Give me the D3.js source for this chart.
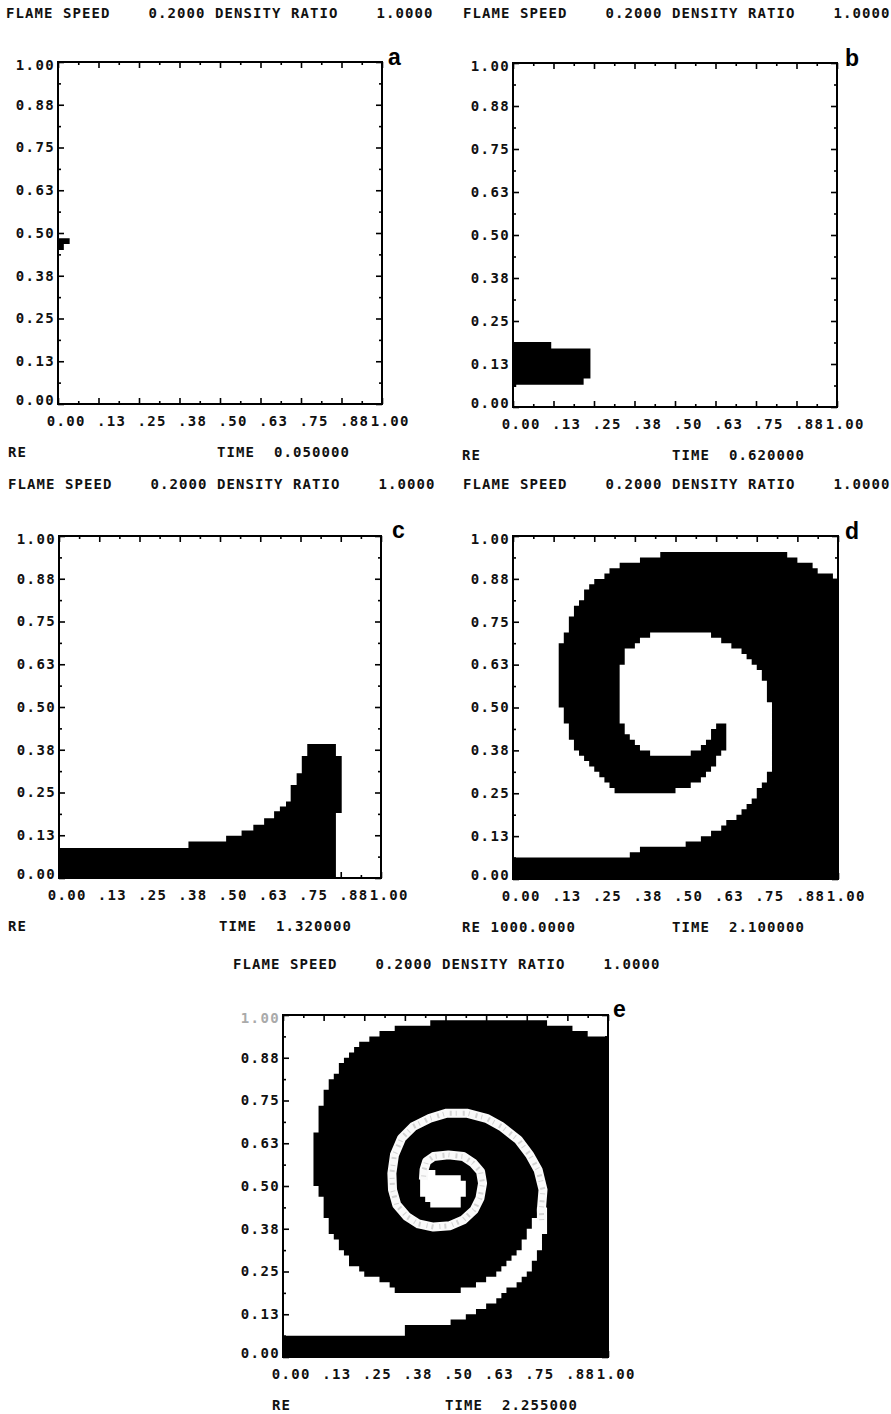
<!DOCTYPE html>
<html>
<head>
<meta charset="utf-8">
<script src="https://cdn.jsdelivr.net/npm/d3@7"></script>
<style>
  body { margin: 0; background: #fff; }
  svg { display: block; }
</style>
</head>
<body>
<div id="chart"></div>
<script>

// ---- data ----
var panelIds = ["a", "b", "c", "d", "e"];
var timeValues = ["0.050000", "0.620000", "1.320000", "2.100000", "2.255000"];
var reValues = ["", "", "", "1000.0000", ""];
var flameSpeed = "0.2000";
var densityRatio = "1.0000";

var tickValues = [0, 0.125, 0.25, 0.375, 0.5, 0.625, 0.75, 0.875, 1];
var minorTickValues = [0.0625, 0.1875, 0.3125, 0.4375, 0.5625, 0.6875, 0.8125, 0.9375];
var yTickLabels = ["0.00", "0.13", "0.25", "0.38", "0.50", "0.63", "0.75", "0.88", "1.00"];
var xTickLabels = ["0.00", ".13", ".25", ".38", ".50", ".63", ".75", ".88", "1.00"];

// burnt cells [x0, x1, y0, y1]
var burntA = [[0, 0.036, 0.468, 0.485], [0, 0.018, 0.45, 0.468]];
var burntB = [[0, 0.239, 0.0825, 0.170], [0, 0.218, 0.065, 0.0825],
              [0, 0.118, 0.170, 0.189], [0, 0.010, 0.058, 0.065]];
var burntC = [[0, 0.402, 0, 0.0875], [0.402, 0.519, 0, 0.107], [0.519, 0.567, 0, 0.1235],
              [0.567, 0.6035, 0, 0.139], [0.6035, 0.637, 0, 0.156], [0.637, 0.668, 0, 0.175],
              [0.668, 0.686, 0, 0.195], [0.686, 0.705, 0, 0.209], [0.705, 0.7195, 0, 0.224],
              [0.7195, 0.738, 0, 0.272], [0.738, 0.754, 0, 0.306], [0.754, 0.771, 0, 0.357],
              [0.771, 0.860, 0, 0.392], [0.860, 0.878, 0.19, 0.357]];

// unburnt (white) region of d, [x, y]
var unburntD = [[0, 1], [1, 1], [1, 0.88], [0.98, 0.886], [0.944, 0.895], [0.929, 0.91], [0.888, 0.924],
  [0.862, 0.939], [0.837, 0.949], [0.811, 0.958], [0.51, 0.958], [0.5, 0.949], [0.439, 0.944],
  [0.408, 0.934], [0.367, 0.924], [0.316, 0.91], [0.286, 0.89], [0.265, 0.876], [0.245, 0.861],
  [0.23, 0.842], [0.204, 0.808], [0.189, 0.779], [0.173, 0.745], [0.163, 0.721], [0.148, 0.687],
  [0.148, 0.502], [0.163, 0.454], [0.179, 0.405], [0.204, 0.367], [0.235, 0.328], [0.265, 0.308],
  [0.286, 0.289], [0.316, 0.26], [0.321, 0.245], [0.495, 0.245], [0.5, 0.258], [0.541, 0.27],
  [0.571, 0.284], [0.597, 0.304], [0.612, 0.318], [0.628, 0.338], [0.638, 0.367], [0.653, 0.38],
  [0.656, 0.449], [0.630, 0.449], [0.628, 0.444], [0.612, 0.43], [0.597, 0.405], [0.582, 0.386],
  [0.546, 0.367], [0.526, 0.357], [0.48, 0.352], [0.418, 0.367], [0.388, 0.381], [0.367, 0.405],
  [0.347, 0.425], [0.337, 0.454], [0.321, 0.493], [0.321, 0.599], [0.337, 0.619], [0.352, 0.667],
  [0.388, 0.696], [0.418, 0.711], [0.469, 0.726], [0.592, 0.726], [0.622, 0.706], [0.663, 0.687],
  [0.694, 0.667], [0.735, 0.638], [0.755, 0.619], [0.776, 0.58], [0.791, 0.512], [0.791, 0.308],
  [0.776, 0.289], [0.765, 0.27], [0.745, 0.24], [0.724, 0.211], [0.694, 0.182], [0.653, 0.158],
  [0.612, 0.134], [0.571, 0.114], [0.531, 0.1], [0.418, 0.09], [0.367, 0.08], [0.362, 0.068],
  [0, 0.068]];

// unburnt regions of e
var unburntE = [[0, 1], [1, 1], [1, 0.932], [0.964, 0.939], [0.903, 0.956], [0.872, 0.971],
  [0.770, 0.981], [0.463, 0.985], [0.452, 0.974], [0.360, 0.964], [0.299, 0.948], [0.258, 0.927],
  [0.217, 0.898], [0.197, 0.878], [0.176, 0.854], [0.156, 0.820], [0.135, 0.791], [0.115, 0.732],
  [0.099, 0.649], [0.099, 0.508], [0.115, 0.469], [0.130, 0.421], [0.150, 0.362], [0.176, 0.314],
  [0.207, 0.275], [0.258, 0.241], [0.319, 0.216], [0.350, 0.192], [0.545, 0.192], [0.596, 0.211],
  [0.637, 0.231], [0.672, 0.260], [0.703, 0.289], [0.729, 0.323], [0.754, 0.362], [0.770, 0.401],
  [0.780, 0.430], [0.811, 0.430], [0.811, 0.391], [0.800, 0.343], [0.780, 0.294], [0.759, 0.255],
  [0.719, 0.216], [0.667, 0.177], [0.626, 0.143], [0.565, 0.119], [0.504, 0.099], [0.381, 0.090],
  [0.371, 0.068], [0, 0.068]];
var coreE = [[0.422, 0.542], [0.468, 0.542], [0.471, 0.528], [0.545, 0.530], [0.560, 0.508],
  [0.560, 0.474], [0.545, 0.460], [0.539, 0.440], [0.458, 0.438], [0.452, 0.455], [0.427, 0.469],
  [0.422, 0.503]];
var spiralE = [[0.796, 0.40], [0.795, 0.430], [0.800, 0.489], [0.785, 0.547], [0.759, 0.591],
  [0.724, 0.635], [0.672, 0.674], [0.626, 0.698], [0.565, 0.713], [0.504, 0.713], [0.452, 0.698],
  [0.401, 0.674], [0.365, 0.640], [0.343, 0.591], [0.335, 0.537], [0.337, 0.489], [0.350, 0.445],
  [0.381, 0.411], [0.417, 0.389], [0.463, 0.380], [0.514, 0.384], [0.555, 0.401], [0.588, 0.430],
  [0.606, 0.464], [0.614, 0.508], [0.608, 0.542], [0.585, 0.567], [0.555, 0.586], [0.509, 0.591],
  [0.463, 0.586], [0.442, 0.572], [0.434, 0.547], [0.432, 0.518]];

// ---- layout ----
var width = 891;
var height = 1414;
var gridN = 64;   // mesh of the computation, gives the stepped edges
var layout = [
  {L: 58,  T: 62,   R: 382, B: 404,  headX: 6,   headY: 18,  reX: 8,   timeX: 217, letterX: 388, letterY: 65},
  {L: 513, T: 63,   R: 837, B: 407,  headX: 463, headY: 18,  reX: 462, timeX: 672, letterX: 845, letterY: 66},
  {L: 59,  T: 536,  R: 381, B: 878,  headX: 8,   headY: 489, reX: 8,   timeX: 219, letterX: 392, letterY: 538},
  {L: 513, T: 536,  R: 838, B: 879,  headX: 463, headY: 489, reX: 462, timeX: 672, letterX: 845, letterY: 539},
  {L: 283, T: 1015, R: 608, B: 1357, headX: 233, headY: 969, reX: 272, timeX: 445, letterX: 613, letterY: 1017}
];
var pitch = 9.8;      // char step of the plotter font
var headPitch = 9.5;
var fontSize = 14;
var monoFont = "'DejaVu Sans Mono', monospace";

var svg = d3.select("#chart")
            .append("svg")
            .attr("width", width)
            .attr("height", height);

function monoText(sel, x, y, str, step) {
  return sel.append("text")
    .attr("x", x)
    .attr("y", y)
    .attr("font-family", monoFont)
    .attr("font-weight", "bold")
    .attr("font-size", fontSize)
    .attr("letter-spacing", step - fontSize * 0.602)
    .attr("fill", "#111")
    .text(str);
}

// turn white polygons into burnt grid cells (runs along each row)
function cellsOutside(polys) {
  var cells = [];
  for (var r = 0; r < gridN; r++) {
    var yc = (r + 0.5) / gridN;
    var start = -1;
    for (var c = 0; c <= gridN; c++) {
      var burnt = false;
      if (c < gridN) {
        var xc = (c + 0.5) / gridN;
        burnt = !polys.some(function(p) { return d3.polygonContains(p, [xc, yc]); });
      }
      if (burnt && start < 0) start = c;
      if (!burnt && start >= 0) {
        cells.push([start / gridN, c / gridN, r / gridN, (r + 1) / gridN]);
        start = -1;
      }
    }
  }
  return cells;
}

var burntShapes = [
  {cells: burntA},
  {cells: burntB},
  {cells: burntC},
  {cells: cellsOutside([unburntD])},
  {cells: cellsOutside([unburntE, coreE]), line: spiralE}
];

layout.forEach(function(p, i) {
  var g = svg.append("g");

  var x = d3.scaleLinear().domain([0, 1]).range([p.L, p.R]);
  var y = d3.scaleLinear().domain([0, 1]).range([p.B, p.T]);

  var line = d3.line()
    .x(function(d) { return x(d[0]); })
    .y(function(d) { return y(d[1]); });

  // burnt region
  var shape = burntShapes[i];
  var path = d3.path();
  shape.cells.forEach(function(c) {
    path.rect(x(c[0]), y(c[3]), x(c[1]) - x(c[0]), y(c[2]) - y(c[3]));
  });
  g.append("path").attr("d", path.toString()).attr("fill", "#000");
  if (shape.line) {
    g.append("path")
      .attr("d", line(shape.line))
      .attr("fill", "none")
      .attr("stroke", "#fafafa")
      .attr("stroke-width", 9)
      .attr("stroke-linejoin", "round");
    g.append("path")
      .attr("d", line(shape.line))
      .attr("fill", "none")
      .attr("stroke", "#bbb")
      .attr("stroke-width", 5)
      .attr("stroke-dasharray", "1 4 2 6")
      .attr("opacity", 0.6);
  }

  // frame
  g.append("rect")
    .attr("x", p.L).attr("y", p.T)
    .attr("width", p.R - p.L).attr("height", p.B - p.T)
    .attr("fill", "none")
    .attr("stroke", "#000")
    .attr("stroke-width", 2);

  // major + minor ticks on all four sides, pointing inward
  var sides = [
    {axis: d3.axisBottom(x), t: "translate(0," + p.B + ")"},
    {axis: d3.axisTop(x),    t: "translate(0," + p.T + ")"},
    {axis: d3.axisLeft(y),   t: "translate(" + p.L + ",0)"},
    {axis: d3.axisRight(y),  t: "translate(" + p.R + ",0)"}
  ];
  sides.forEach(function(s) {
    var major = g.append("g").attr("transform", s.t)
      .call(s.axis.tickValues(tickValues).tickSizeInner(-6).tickSizeOuter(0).tickFormat(""));
    major.select(".domain").remove();
    major.selectAll("line").attr("stroke-width", 1.6);
    var minor = g.append("g").attr("transform", s.t)
      .call(s.axis.tickValues(minorTickValues).tickSizeInner(-3).tickSizeOuter(0).tickFormat(""));
    minor.select(".domain").remove();
    minor.selectAll("line").attr("stroke-width", 1.6);
  });

  // y tick labels
  tickValues.forEach(function(v, k) {
    var dy = v === 1 ? 3 : (v === 0 ? -4 : 0);
    monoText(g, p.L - 3, y(v) + dy + 4.8, yTickLabels[k], pitch)
      .attr("text-anchor", "end")
      .attr("fill", (i === 4 && v === 1) ? "#aaa" : "#111");
  });

  // x tick labels: decimal point sits on the tick
  tickValues.forEach(function(v, k) {
    var lab = xTickLabels[k];
    monoText(g, x(v) - 1.5 - pitch * lab.indexOf("."), p.B + 22, lab, pitch);
  });

  // header
  var head = [["FLAME SPEED", 0], [flameSpeed, 15], ["DENSITY RATIO", 22], [densityRatio, 39]];
  head.forEach(function(h) {
    monoText(g, p.headX + h[1] * headPitch, p.headY, h[0], headPitch);
  });

  // footer
  monoText(g, p.reX, p.B + 53, "RE" + (reValues[i] ? " " + reValues[i] : ""), headPitch);
  monoText(g, p.timeX, p.B + 53, "TIME", headPitch);
  monoText(g, p.timeX + 6 * headPitch, p.B + 53, timeValues[i], headPitch);

  // panel letter
  g.append("text")
    .attr("x", p.letterX)
    .attr("y", p.letterY)
    .attr("font-family", "'Liberation Sans', Arial, sans-serif")
    .attr("font-weight", "bold")
    .attr("font-size", 23)
    .attr("fill", "#000")
    .text(panelIds[i]);
});

</script>
</body>
</html>
